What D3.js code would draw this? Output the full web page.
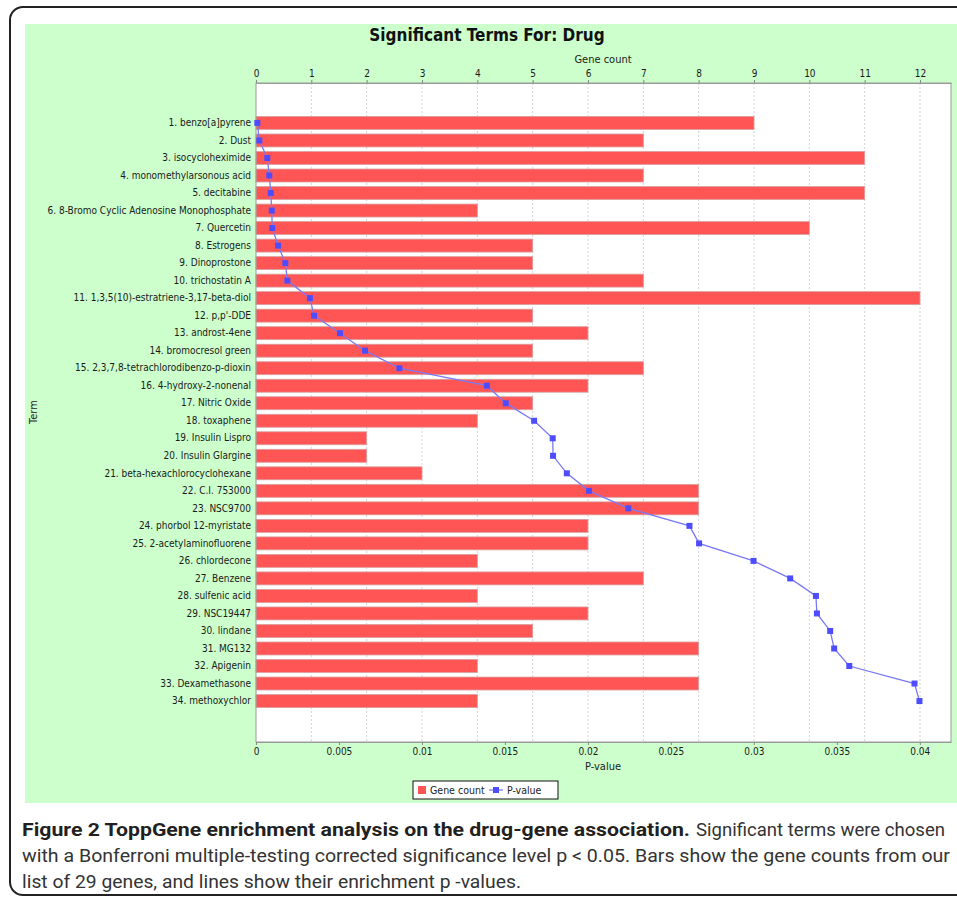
<!DOCTYPE html>
<html>
<head>
<meta charset="utf-8">
<script src="https://cdn.jsdelivr.net/npm/d3@7"></script>
<style>
  body { margin: 0; background: #fff; }
  svg { display: block; }
</style>
</head>
<body>
<svg id="chart" width="957" height="899"></svg>
<script>
// terms, gene counts and p-values
const terms = [
  "1. benzo[a]pyrene", "2. Dust", "3. isocycloheximide", "4. monomethylarsonous acid",
  "5. decitabine", "6. 8-Bromo Cyclic Adenosine Monophosphate", "7. Quercetin",
  "8. Estrogens", "9. Dinoprostone", "10. trichostatin A",
  "11. 1,3,5(10)-estratriene-3,17-beta-diol", "12. p,p'-DDE", "13. androst-4ene",
  "14. bromocresol green", "15. 2,3,7,8-tetrachlorodibenzo-p-dioxin",
  "16. 4-hydroxy-2-nonenal", "17. Nitric Oxide", "18. toxaphene", "19. Insulin Lispro",
  "20. Insulin Glargine", "21. beta-hexachlorocyclohexane", "22. C.I. 753000",
  "23. NSC9700", "24. phorbol 12-myristate", "25. 2-acetylaminofluorene",
  "26. chlordecone", "27. Benzene", "28. sulfenic acid", "29. NSC19447",
  "30. lindane", "31. MG132", "32. Apigenin", "33. Dexamethasone", "34. methoxychlor"
];
const geneCounts = [9, 7, 11, 7, 11, 4, 10, 5, 5, 7, 12, 5, 6, 5, 7, 6, 5, 4, 2, 2, 3,
  8, 8, 6, 6, 4, 7, 4, 6, 5, 8, 4, 8, 4];
const pValues = [0.00008, 0.0002, 0.00068, 0.0008, 0.00089, 0.00095, 0.00098, 0.00133,
  0.00177, 0.00189, 0.00325, 0.0035, 0.00506, 0.00657, 0.00864, 0.01391, 0.01505,
  0.01676, 0.01788, 0.0179, 0.01873, 0.02007, 0.02244, 0.02612, 0.0267, 0.02998,
  0.03219, 0.03374, 0.0338, 0.0346, 0.03484, 0.03575, 0.03968, 0.03998];
const geneTicks = d3.range(0, 13);
const pTicks = [0, 0.005, 0.01, 0.015, 0.02, 0.025, 0.03, 0.035, 0.04];

const data = terms.map((t, i) => ({term: t, count: geneCounts[i], p: pValues[i]}));

const svg = d3.select("#chart");
const plot = {left: 256, right: 951, top: 83, bottom: 742};
const labelFont = "'DejaVu Sans Condensed', 'DejaVu Sans', sans-serif";

// frame + green chart panel
svg.append("rect").attr("x", 10).attr("y", 7).attr("width", 980).attr("height", 888)
  .attr("rx", 13).attr("fill", "none").attr("stroke", "#222").attr("stroke-width", 2);
svg.append("rect").attr("x", 25).attr("y", 24).attr("width", 940).attr("height", 779)
  .attr("fill", "#ccffcc");

let xGene = d3.scaleLinear().domain([0, 12.56]).range([plot.left, plot.right]);
let xP = d3.scaleLinear().domain([0, 0.04188]).range([plot.left, plot.right]);
let y = d3.scaleBand().domain(terms).range([114.2, 709.8])
  .paddingInner(0.26).paddingOuter(0.13);

svg.append("rect")
  .attr("x", plot.left).attr("y", plot.top)
  .attr("width", plot.right - plot.left).attr("height", plot.bottom - plot.top)
  .attr("fill", "#fff");

// gridlines
svg.append("g").selectAll("line").data(geneTicks.slice(1)).enter().append("line")
  .attr("x1", d => xGene(d)).attr("x2", d => xGene(d))
  .attr("y1", plot.top).attr("y2", plot.bottom)
  .attr("stroke", "#c8c8c8").attr("stroke-width", 0.8).attr("stroke-dasharray", "2,2");

// bars
svg.append("g")
  .selectAll("rect").data(data).enter().append("rect")
  .attr("x", plot.left)
  .attr("y", d => y(d.term))
  .attr("width", d => xGene(d.count) - plot.left)
  .attr("height", y.bandwidth())
  .attr("fill", "#ff5555")
  .attr("stroke", "#d9a0a0").attr("stroke-width", 0.8);

svg.append("rect")
  .attr("x", plot.left).attr("y", plot.top)
  .attr("width", plot.right - plot.left).attr("height", plot.bottom - plot.top)
  .attr("fill", "none").attr("stroke", "#9a9a9a").attr("stroke-width", 1);

// p-value line
let line = d3.line().x(d => xP(d.p)).y(d => y(d.term) + y.bandwidth() / 2);
svg.append("path").datum(data)
  .attr("d", line).attr("fill", "none")
  .attr("stroke", "#7a7af5").attr("stroke-width", 1.3);
svg.append("g").selectAll("rect").data(data).enter().append("rect")
  .attr("x", d => xP(d.p) - 3)
  .attr("y", d => y(d.term) + y.bandwidth() / 2 - 3)
  .attr("width", 6).attr("height", 6)
  .attr("fill", "#4d4dff");

// axes
let topAxis = d3.axisTop(xGene).tickValues(geneTicks).tickSize(3).tickSizeOuter(0);
let bottomAxis = d3.axisBottom(xP).tickValues(pTicks).tickSize(3).tickSizeOuter(0)
  .tickFormat(d => d === 0 ? "0" : String(+d.toFixed(3)));
let leftAxis = d3.axisLeft(y).tickSize(0).tickPadding(5);

function styleAxis(g) {
  g.select(".domain").attr("stroke", "#9a9a9a");
  g.selectAll(".tick line").attr("stroke", "#888");
  g.selectAll(".tick text").attr("fill", "#1a1a1a")
    .style("font-family", labelFont).style("font-size", "10px");
}
svg.append("g").attr("transform", `translate(0,${plot.top})`).call(topAxis).call(styleAxis);
svg.append("g").attr("transform", `translate(0,${plot.bottom})`).call(bottomAxis).call(styleAxis);
svg.append("g").attr("transform", `translate(${plot.left},0)`).call(leftAxis).call(styleAxis)
  .call(g => g.select(".domain").remove());

// titles
svg.append("text").attr("x", 487).attr("y", 41).attr("text-anchor", "middle")
  .style("font-family", labelFont).style("font-weight", "bold").style("font-size", "17px")
  .attr("fill", "#111").text("Significant Terms For: Drug");
svg.append("text").attr("x", 603).attr("y", 63).attr("text-anchor", "middle")
  .style("font-family", labelFont).style("font-size", "11px").attr("fill", "#222")
  .text("Gene count");
svg.append("text").attr("x", 603).attr("y", 770).attr("text-anchor", "middle")
  .style("font-family", labelFont).style("font-size", "11px").attr("fill", "#222")
  .text("P-value");
svg.append("text").attr("transform", "translate(37,412) rotate(-90)").attr("text-anchor", "middle")
  .style("font-family", labelFont).style("font-size", "11px").attr("fill", "#222")
  .text("Term");

// legend
let lg = svg.append("g").attr("transform", "translate(413,781)");
lg.append("rect").attr("width", 145).attr("height", 18).attr("fill", "#fff")
  .attr("stroke", "#111").attr("stroke-width", 1);
lg.append("rect").attr("x", 5).attr("y", 5).attr("width", 8).attr("height", 8).attr("fill", "#ff5555");
lg.append("text").attr("x", 17).attr("y", 13).style("font-family", labelFont)
  .style("font-size", "10.5px").attr("fill", "#222").text("Gene count");
lg.append("line").attr("x1", 76).attr("x2", 90).attr("y1", 9).attr("y2", 9)
  .attr("stroke", "#7a7af5").attr("stroke-width", 1.3);
lg.append("rect").attr("x", 80).attr("y", 6).attr("width", 6).attr("height", 6).attr("fill", "#4d4dff");
lg.append("text").attr("x", 94).attr("y", 13).style("font-family", labelFont)
  .style("font-size", "10.5px").attr("fill", "#222").text("P-value");

// caption
const capFont = "Roboto, 'Liberation Sans', sans-serif";
svg.append("text").attr("x", 22).attr("y", 836).attr("textLength", 668)
  .attr("lengthAdjust", "spacingAndGlyphs")
  .style("font-family", capFont).style("font-size", "18px").style("font-weight", "bold")
  .attr("fill", "#231f20")
  .text("Figure 2 ToppGene enrichment analysis on the drug-gene association.");
svg.append("text").attr("x", 696).attr("y", 836).attr("textLength", 249)
  .attr("lengthAdjust", "spacingAndGlyphs")
  .style("font-family", capFont).style("font-size", "18px").attr("fill", "#333")
  .text("Significant terms were chosen");
svg.append("text").attr("x", 22).attr("y", 862).attr("textLength", 928)
  .attr("lengthAdjust", "spacingAndGlyphs")
  .style("font-family", capFont).style("font-size", "18px").attr("fill", "#333")
  .text("with a Bonferroni multiple-testing corrected significance level p < 0.05. Bars show the gene counts from our");
svg.append("text").attr("x", 22).attr("y", 888).attr("textLength", 499)
  .attr("lengthAdjust", "spacingAndGlyphs")
  .style("font-family", capFont).style("font-size", "18px").attr("fill", "#333")
  .text("list of 29 genes, and lines show their enrichment p -values.");
</script>
</body>
</html>
